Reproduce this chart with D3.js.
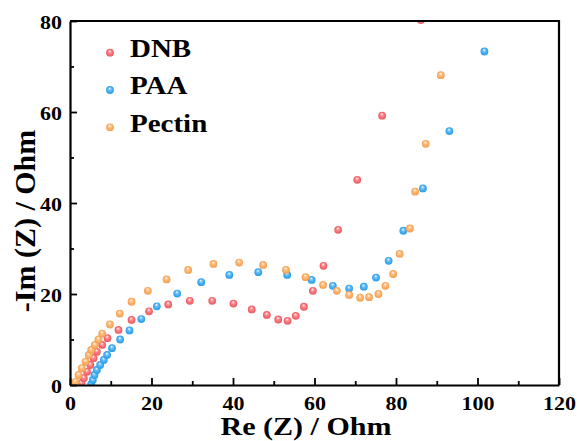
<!DOCTYPE html>
<html><head><meta charset="utf-8">
<script src="https://cdn.jsdelivr.net/npm/d3@7"></script>
<style>
html,body{margin:0;padding:0;background:#fff;}
svg{display:block;}
text{font-family:"Liberation Serif","Times New Roman",serif;font-weight:bold;fill:#000;}
</style></head>
<body>
<svg id="chart" width="579" height="441"></svg>
<script>
// Data (Re(Z), -Im(Z)) in Ohm
const dnb = [[2.8,0.4],[3.4,1.5],[4.2,2.9],[5.0,4.4],[5.8,5.9],[6.6,7.3],[7.9,8.8],[9.2,10.3],[11.9,12.1],[15.1,14.3],[19.4,16.2],[24.1,17.7],[29.4,18.5],[34.9,18.5],[40.1,17.9],[44.6,16.6],[48.3,15.4],[51.1,14.4],[53.4,14.1],[55.4,15.2],[57.4,17.2],[59.6,20.7],[62.2,26.2],[65.8,34.1],[70.5,45.1],[76.6,59.2],[86.1,80.2]];
const paa = [[5.2,0.2],[5.6,1.1],[6.0,2.2],[6.6,3.3],[7.4,4.4],[8.3,5.5],[9.1,6.6],[10.3,8.1],[12.3,10.0],[14.6,12.0],[17.5,14.5],[21.3,17.3],[26.3,20.1],[32.2,22.6],[39.1,24.2],[46.2,24.8],[53.3,24.2],[59.3,23.1],[64.5,21.8],[68.5,21.2],[72.1,21.6],[75.1,23.6],[78.2,27.3],[81.8,33.9],[86.6,43.2],[93.1,55.8],[101.7,73.3]];
const pectin = [[1.3,0.7],[2.1,2.2],[2.9,3.7],[3.8,5.1],[4.6,6.6],[5.2,7.7],[6.1,8.8],[7.0,10.0],[7.9,11.3],[9.8,13.3],[12.2,15.7],[15.1,18.3],[19.1,20.7],[23.7,23.2],[29.0,25.3],[35.2,26.6],[41.5,26.9],[47.4,26.4],[53.0,25.3],[57.8,23.7],[62.1,22.0],[65.5,20.7],[68.5,19.8],[71.2,19.2],[73.4,19.3],[75.7,20.0],[77.4,21.8],[79.3,24.4],[80.9,28.8],[83.4,34.4],[84.7,42.5],[87.3,53.0],[91.0,68.1]];
const seriesNames = ["DNB","PAA","Pectin"];
const seriesData = [dnb, paa, pectin];
const seriesColors = ["#f6666c","#38a8f2","#fdaa5c"];
const xTicks = [0,20,40,60,80,100,120];
const yTicks = [0,20,40,60,80];
const xMinor = [10,30,50,70,90,110];
const yMinor = [10,30,50,70];

const svg = d3.select("#chart");
const L = 70, R = 559, T = 21, B = 385;
const SY = 0.88; // vertical squash of horizontal texts, as in the reference
const x = d3.scaleLinear().domain([0,120]).range([L,R]);
const y = d3.scaleLinear().domain([0,80]).range([B,T]);

const defs = svg.append("defs");
seriesColors.forEach((c,i)=>{
  const g = defs.append("radialGradient").attr("id","g"+i)
    .attr("cx","50%").attr("cy","50%").attr("r","50%").attr("fx","45%").attr("fy","28%");
  g.append("stop").attr("offset","0%").attr("stop-color","#ffffff");
  g.append("stop").attr("offset","35%").attr("stop-color",d3.interpolateRgb("#ffffff",c)(0.7));
  g.append("stop").attr("offset","75%").attr("stop-color",c);
  g.append("stop").attr("offset","100%").attr("stop-color",d3.color(c).darker(0.2));
});
defs.append("clipPath").attr("id","clip").append("rect")
  .attr("x",L).attr("y",T).attr("width",R-L).attr("height",B-T);

// data points
const pts = svg.append("g").attr("clip-path","url(#clip)");
seriesData.forEach((d,i)=>{
  pts.append("g").selectAll("circle").data(d).join("circle")
    .attr("cx",p=>x(p[0])).attr("cy",p=>y(p[1])).attr("r",3.9)
    .attr("fill","url(#g"+i+")");
});

// axes
const xAxis = d3.axisBottom(x).tickValues(xTicks).tickSizeInner(-7).tickSizeOuter(0);
const yAxis = d3.axisLeft(y).tickValues(yTicks).tickSizeInner(-7).tickSizeOuter(0);
const gx = svg.append("g").attr("transform",`translate(0,${B})`).call(xAxis);
const gy = svg.append("g").attr("transform",`translate(${L},0)`).call(yAxis);
svg.append("g").attr("transform",`translate(0,${B})`)
  .call(d3.axisBottom(x).tickValues(xMinor).tickSize(-4).tickFormat(""))
  .call(g=>g.select(".domain").remove());
svg.append("g").attr("transform",`translate(${L},0)`)
  .call(d3.axisLeft(y).tickValues(yMinor).tickSize(-4).tickFormat(""))
  .call(g=>g.select(".domain").remove());
svg.selectAll(".tick line").attr("stroke","#000").attr("stroke-width",1.8);
[gx,gy].forEach(g=>{
  g.select(".domain").attr("stroke","#000").attr("stroke-width",2.2);
  g.selectAll("text").attr("font-size",null).attr("font-family",null)
    .style("font-size","22px").style("font-family","'Liberation Serif',serif").style("font-weight","bold");
});
gx.selectAll(".tick text").attr("dy",null).attr("y",0)
  .attr("transform",`translate(0,25) scale(1,${SY})`);
gy.selectAll(".tick text").attr("dy",null).attr("y",0).attr("x",-8)
  .attr("transform",`translate(0,7) scale(1,${SY})`);
// box top & right
svg.append("path").attr("d",`M${L},${T}H${R}V${B}`).attr("fill","none").attr("stroke","#000").attr("stroke-width",2.2);

// axis titles
svg.append("text").attr("transform",`translate(306,435) scale(1,${SY})`).attr("text-anchor","middle")
  .attr("textLength",171).attr("lengthAdjust","spacingAndGlyphs")
  .style("font-size","29px").text("Re (Z) / Ohm");
svg.append("text").attr("transform","translate(35,221) rotate(-90)").attr("text-anchor","middle")
  .style("font-size","30px").text("-Im (Z) / Ohm");

// legend
const leg = svg.append("g");
seriesNames.forEach((n,i)=>{
  const yy = 52.7 + i*37.3;
  leg.append("circle").attr("cx",110).attr("cy",yy).attr("r",3.9).attr("fill","url(#g"+i+")");
  leg.append("text").attr("transform",`translate(130,${yy+4.2}) scale(1,${SY})`)
    .style("font-size","29px").text(n);
});
</script>
</body></html>
